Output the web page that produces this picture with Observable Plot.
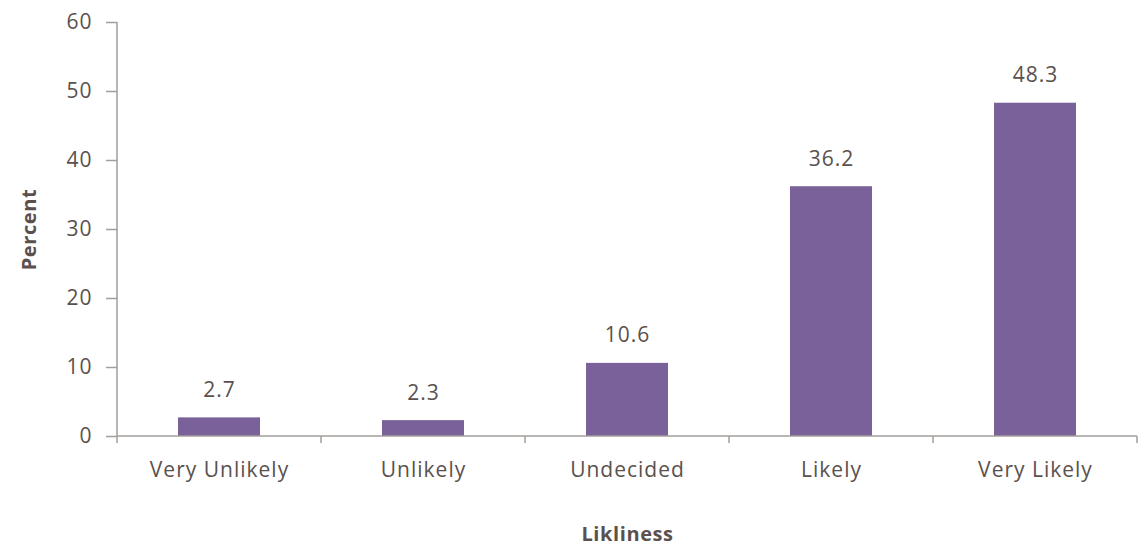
<!DOCTYPE html>
<html>
<head>
<meta charset="utf-8">
<script src="https://cdn.jsdelivr.net/npm/d3@7"></script>
<script src="https://cdn.jsdelivr.net/npm/@observablehq/plot@0.6"></script>
<style>
  html, body { margin: 0; padding: 0; background: #fff; }
  #chart svg { display: block; font-family: "Open Sans", sans-serif; }
  #chart svg text { letter-spacing: 1px; }
  #chart svg [aria-label="y-axis label"],
  #chart svg [aria-label="x-axis label"] { font-weight: bold; font-size: 20px; }
  #chart svg [aria-label="y-axis label"] text,
  #chart svg [aria-label="x-axis label"] text { letter-spacing: 0.6px; }
</style>
</head>
<body>
<div id="chart"></div>
<script>
const categories = ["Very Unlikely", "Unlikely", "Undecided", "Likely", "Very Likely"];
const percents = [2.7, 2.3, 10.6, 36.2, 48.3];
const yTicks = [0, 10, 20, 30, 40, 50, 60];
const xTitle = "Likliness";
const yTitle = "Percent";

const data = categories.map((c, i) => ({category: c, percent: percents[i]}));

const textColor = "#5a514e";
const axisColor = "#a39e9b";
const barColor = "#7b619a";

// axis lines plus Excel-style boundary ticks between category bands
function axisLinesAndBoundaryTicks(index, scales, values, dimensions) {
  const x = scales.x, y = scales.y;
  const step = x.step ? x.step() : (dimensions.width - dimensions.marginLeft - dimensions.marginRight) / categories.length;
  const bw = x.bandwidth ? x.bandwidth() : 0;
  const centers = categories.map(c => x(c) + bw / 2);
  const bounds = [centers[0] - step / 2, ...centers.map(c => c + step / 2)];
  const yDom = y.domain ? y.domain() : [0, 60];
  const y0 = y(yDom[0]), y1 = y(yDom[1]);
  const g = d3.create("svg:g").attr("aria-label", "axis-lines");
  g.append("line")
    .attr("x1", bounds[0]).attr("x2", bounds[0])
    .attr("y1", y0).attr("y2", y1)
    .attr("stroke", axisColor).attr("stroke-width", 1.5);
  g.append("line")
    .attr("x1", bounds[0]).attr("x2", bounds[bounds.length - 1])
    .attr("y1", y0).attr("y2", y0)
    .attr("stroke", axisColor).attr("stroke-width", 1.5);
  for (const b of bounds) {
    g.append("line")
      .attr("x1", b).attr("x2", b)
      .attr("y1", y0).attr("y2", y0 + 7)
      .attr("stroke", axisColor).attr("stroke-width", 1.5);
  }
  return g.node();
}

const chart = Plot.plot({
  width: 1138,
  height: 546,
  marginLeft: 117,
  marginRight: 1,
  marginTop: 22,
  marginBottom: 110,
  style: {fontFamily: "'Open Sans', sans-serif", color: textColor, background: "#fff"},
  x: {domain: categories, paddingInner: 0.6, paddingOuter: 0.3},
  y: {domain: [0, 60]},
  marks: [
    Plot.axisY({
      ticks: yTicks,
      tickSize: 11,
      tickPadding: 14,
      fontSize: 21,
      fill: textColor,
      stroke: axisColor,
      strokeWidth: 1.5,
      label: yTitle,
      labelAnchor: "center",
      labelArrow: "none",
      labelOffset: 96
    }),
    Plot.axisX({
      tickSize: 0,
      tickPadding: 26,
      fontSize: 21,
      fill: textColor,
      label: xTitle,
      labelAnchor: "center",
      labelArrow: "none",
      labelOffset: 104
    }),
    Plot.barY(data, {x: "category", y: "percent", fill: barColor}),
    Plot.text(data, {x: "category", y: "percent", text: d => d.percent.toFixed(1), lineAnchor: "bottom", dy: -21, fontSize: 21, fill: textColor}),
    axisLinesAndBoundaryTicks
  ]
});
document.getElementById("chart").appendChild(chart);
</script>
</body>
</html>
